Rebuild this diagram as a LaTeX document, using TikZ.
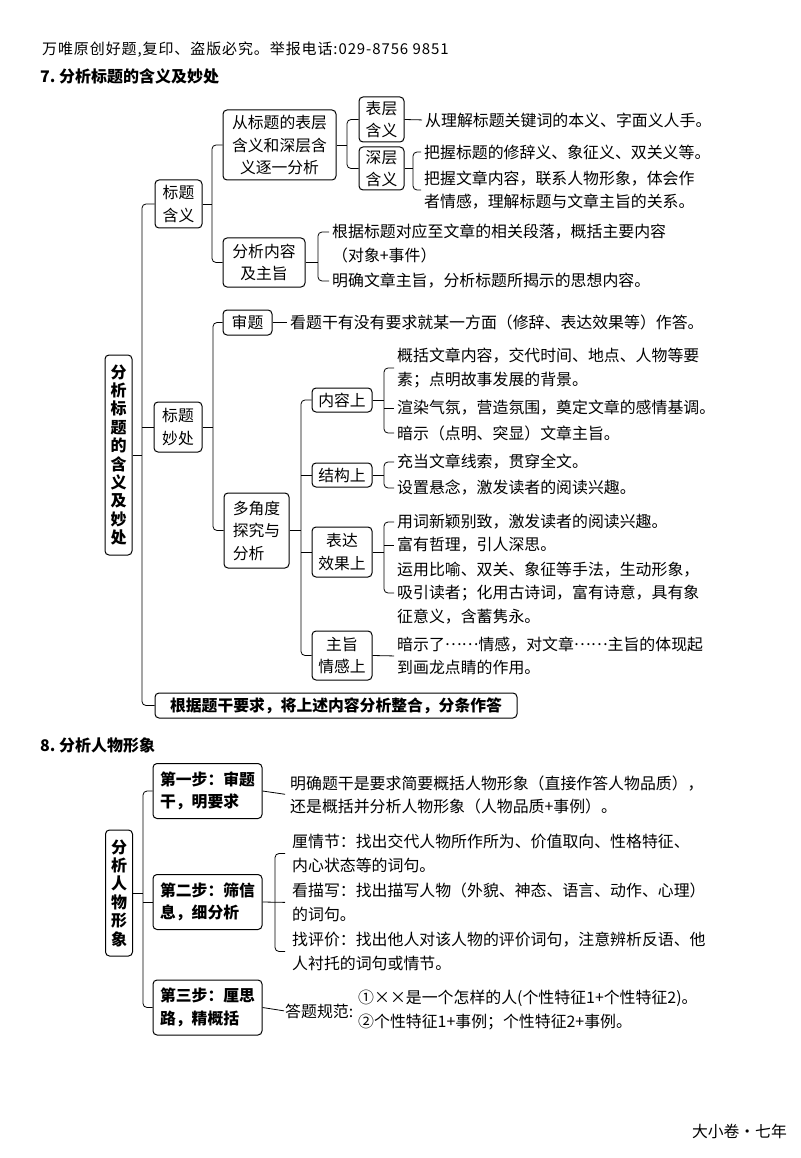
\documentclass[tikz,border=0pt]{standalone}
\usepackage{fontspec}
\setmainfont{Noto Sans CJK SC}
\usetikzlibrary{positioning,calc}
\newcommand\headfont{\fontsize{15pt}{17pt}\selectfont\addfontfeature{LetterSpace=6}}
\newcommand\titlefont{\fontsize{16pt}{19pt}\selectfont\bfseries}
\newcommand\boxfont{\fontsize{15.8pt}{22.5pt}\selectfont}
\newcommand\notefont{\fontsize{15.9pt}{23.5pt}\selectfont}
\newcommand\rootfont{\fontsize{16pt}{18.4pt}\selectfont\bfseries}
\newcommand\dotsmid{\raisebox{0.32em}{……}}
\tikzset{
  node distance=6pt and 12pt,
  topic/.style={draw, line width=1pt, rounded corners=4pt, align=center,
                font=\boxfont, inner sep=0pt},
  rootbox/.style={topic, font=\rootfont, minimum width=27pt},
  stepbox/.style={topic, font=\boxfont\bfseries, align=left,
                  minimum width=109pt, minimum height=55pt},
  note/.style={font=\notefont, align=left, inner sep=0pt, anchor=west},
  link/.style={line width=0.8pt, rounded corners=4pt},
}
\begin{document}
\begin{tikzpicture}[x=1pt, y=-1pt]
  \useasboundingbox (0,0) rectangle (800,1158);
  \node[anchor=west, font=\headfont, inner sep=0pt] (head) at (42,50)
    {万唯原创好题,复印、盗版必究。举报电话:029-8756 9851};
  \node[anchor=west, font=\titlefont, inner sep=0pt] (title7) at (40,76) {7.\ 分析标题的含义及妙处};
  % 7: title meaning and merits
  \node[rootbox, minimum height=200pt] (root7) at (118.5,455) {分\\析\\标\\题\\的\\含\\义\\及\\妙\\处};
  \node[topic, minimum width=47pt, minimum height=48pt] (mean) at (178.5,204) {标题\\含义};
  \node[topic, minimum width=48pt, minimum height=50pt] (merit) at (178,427) {标题\\妙处};
  \node[topic, font=\boxfont\bfseries, minimum width=362pt, minimum height=25pt] (sum7) at (336,705.5)
    {根据题干要求，将上述内容分析整合，分条作答};
  \node[topic, minimum width=113pt, minimum height=70pt] (layer) at (279.5,145)
    {从标题的表层\\含义和深层含\\义逐一分析};
  \node[topic, minimum width=82pt, minimum height=49pt] (gist) at (264,262.5) {分析内容\\及主旨};
  \node[topic, minimum width=45pt, minimum height=45pt] (surf) at (381.5,119.5) {表层\\含义};
  \node[topic, minimum width=45pt, minimum height=43pt] (deep) at (381.5,168.5) {深层\\含义};
  \node[topic, minimum width=49pt, minimum height=25pt] (shen) at (247.5,322.5) {审题};
  \node[topic, align=left, minimum width=65pt, minimum height=75pt] (multi) at (256.5,530.5)
    {多角度\\探究与\\分析};
  \node[topic, minimum width=60pt, minimum height=24pt] (con) at (342,400) {内容上};
  \node[topic, minimum width=60pt, minimum height=24pt] (stru) at (342,475) {结构上};
  \node[topic, minimum width=60pt, minimum height=50pt] (expr) at (342,552) {表达\\效果上};
  \node[topic, minimum width=60pt, minimum height=49pt] (theme) at (342,655.5) {主旨\\情感上};
  \node[note] (n7s) at (425,120) {从理解标题关键词的本义、字面义人手。};
  \node[note] (n7d1) at (424,152) {把握标题的修辞义、象征义、双关义等。};
  \node[note] (n7d2) at (424,190) {把握文章内容，联系人物形象，体会作\\者情感，理解标题与文章主旨的关系。};
  \node[note] (n7p1) at (332,232) {根据标题对应至文章的相关段落，概括主要内容};
  \node[note] (n7p2) at (332,255) {（对象+事件）};
  \node[note] (n7p3) at (332,281) {明确文章主旨，分析标题所揭示的思想内容。};
  \node[note] (n7shen) at (290,322.5) {看题干有没有要求就某一方面（修辞、表达效果等）作答。};
  \node[note] (n7c1) at (397,368) {概括文章内容，交代时间、地点、人物等要\\素；点明故事发展的背景。};
  \node[note] (n7c2) at (397,408) {渲染气氛，营造氛围，奠定文章的感情基调。};
  \node[note] (n7c3) at (397,433) {暗示（点明、突显）文章主旨。};
  \node[note] (n7t1) at (397,462) {充当文章线索，贯穿全文。};
  \node[note] (n7t2) at (397,488) {设置悬念，激发读者的阅读兴趣。};
  \node[note] (n7e1) at (397,522) {用词新颖别致，激发读者的阅读兴趣。};
  \node[note] (n7e2) at (397,545) {富有哲理，引人深思。};
  \node[note] (n7e3) at (397,593) {运用比喻、双关、象征等手法，生动形象，\\吸引读者；化用古诗词，富有诗意，具有象\\征意义，含蓄隽永。};
  \node[note] (n7m) at (397,656) {暗示了\dotsmid 情感，对文章\dotsmid 主旨的体现起\\到画龙点睛的作用。};
  \coordinate (j7) at (142,455);
  \coordinate (j7a) at (212,204);
  \coordinate (j7l) at (347,145);
  \coordinate (j7d) at (413,168.5);
  \coordinate (j7p) at (318,262.5);
  \coordinate (j7b) at (213,427);
  \coordinate (j7m) at (301,530.5);
  \coordinate (j7c) at (384,400);
  \coordinate (j7t) at (384,475);
  \coordinate (j7e) at (384,552);
  \draw[link] (root7.east) -- (j7);
  \draw[link] (mean.west) -- (mean.west -| j7) -- (sum7.west -| j7) -- (sum7.west);
  \draw[link] (merit.west) -- (merit.west -| j7);
  \draw[link] (mean.east) -- (j7a);
  \draw[link] (layer.west) -- (layer.west -| j7a) -- (gist.west -| j7a) -- (gist.west);
  \draw[link] (layer.east) -- (j7l);
  \draw[link] (surf.west) -- (surf.west -| j7l) -- (deep.west -| j7l) -- (deep.west);
  \draw[link, shorten >=3pt] (surf.east) -- (n7s.west);
  \draw[link] (deep.east) -- (j7d);
  \draw[link] ([xshift=-3pt]n7d1.west) -| (j7d) |- ([xshift=-3pt]n7d2.west);
  \draw[link] (gist.east) -- (j7p);
  \draw[link] ([xshift=-3pt]n7p1.west) -| (j7p) |- ([xshift=-3pt]n7p3.west);
  \draw[link] (merit.east) -- (j7b);
  \draw[link] (shen.west) -- (shen.west -| j7b) -- (multi.west -| j7b) -- (multi.west);
  \draw[link, shorten >=3pt] (shen.east) -- (n7shen.west);
  \draw[link] (multi.east) -- (j7m);
  \draw[link] (con.west) -- (con.west -| j7m) -- (theme.west -| j7m) -- (theme.west);
  \draw[link] (stru.west) -- (stru.west -| j7m);
  \draw[link] (expr.west) -- (expr.west -| j7m);
  \draw[link] (con.east) -- (j7c);
  \draw[link] ([xshift=-3pt]n7c1.west) -| (j7c) |- ([xshift=-3pt]n7c3.west);
  \draw[link] (n7c2.west -| j7c) -- ([xshift=-3pt]n7c2.west);
  \draw[link] (stru.east) -- (j7t);
  \draw[link] ([xshift=-3pt]n7t1.west) -| (j7t) |- ([xshift=-3pt]n7t2.west);
  \draw[link] (expr.east) -- (j7e);
  \draw[link] ([xshift=-3pt]n7e1.west) -| (j7e) |- ([xshift=-3pt]n7e3.west);
  \draw[link] (n7e2.west -| j7e) -- ([xshift=-3pt]n7e2.west);
  \draw[link, shorten >=3pt] (theme.east) -- (n7m.west);
  % 8: character image
  \node[anchor=west, font=\titlefont, inner sep=0pt] (title8) at (40,745) {8.\ 分析人物形象};
  \node[rootbox, minimum height=126pt] (root8) at (119,893) {分\\析\\人\\物\\形\\象};
  \node[stepbox] (step1) at (207.5,791) {第一步：审题\\干，明要求};
  \node[stepbox] (step2) at (207.5,902) {第二步：筛信\\息，细分析};
  \node[stepbox] (step3) at (207.5,1007.5) {第三步：厘思\\路，精概括};
  \node[note] (n8a) at (290,795) {明确题干是要求简要概括人物形象（直接作答人物品质），\\还是概括并分析人物形象（人物品质+事例）。};
  \node[note] (n8b1) at (292,853.5) {厘情节：找出交代人物所作所为、价值取向、性格特征、\\内心状态等的词句。};
  \node[note] (n8b2) at (292,902.5) {看描写：找出描写人物（外貌、神态、语言、动作、心理）\\的词句。};
  \node[note] (n8b3) at (292,951.5) {找评价：找出他人对该人物的评价词句，注意辨析反语、他\\人衬托的词句或情节。};
  \node[note] (n8c) at (285,1011) {答题规范:};
  \node[note] (n8c1) at (358,1010) {①××是一个怎样的人(个性特征1+个性特征2)。\\②个性特征1+事例；个性特征2+事例。};
  \coordinate (j8) at (143,893);
  \coordinate (j8b) at (275,902);
  \draw[link] (root8.east) -- (j8);
  \draw[link] (step1.west) -- (step1.west -| j8) -- (step3.west -| j8) -- (step3.west);
  \draw[link] (step2.west) -- (step2.west -| j8);
  \draw[link, shorten >=5pt] (step1.east) -- (n8a.west);
  \draw[link, shorten >=7pt] (step2.east) -- (n8b2.west);
  \draw[link] ([xshift=-7pt]n8b1.west) -| (j8b) |- ([xshift=-7pt]n8b3.west);
  \draw[link, shorten >=1pt] (step3.east) -- (n8c.west);
  \node[anchor=east, font=\boxfont, inner sep=0pt] (foot) at (787,1131) {大小卷·七年};
\end{tikzpicture}
\end{document}
